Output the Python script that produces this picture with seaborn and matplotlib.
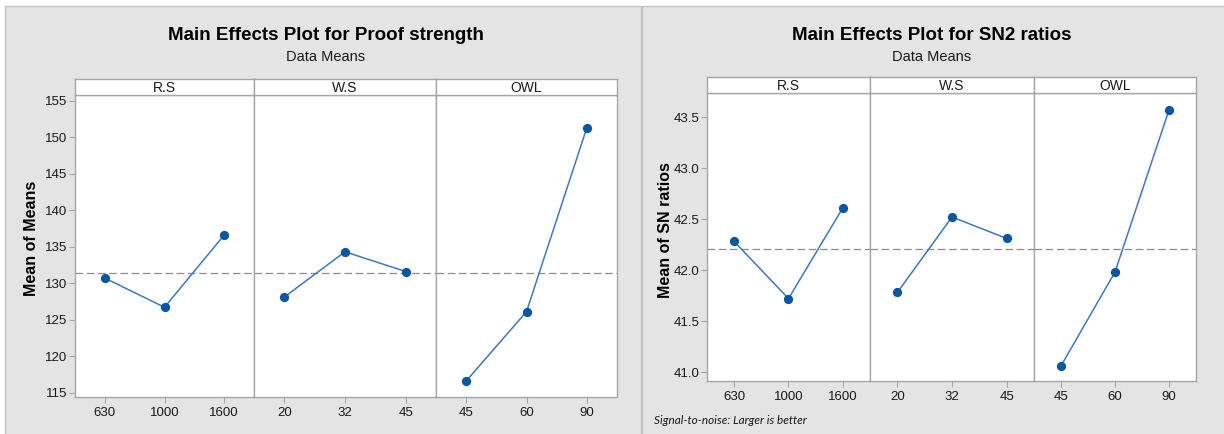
import numpy as np
import pandas as pd
import matplotlib
matplotlib.use("Agg")
import matplotlib.pyplot as plt
from matplotlib.patches import Rectangle
import seaborn as sns

# Factor levels
factors = ["R.S", "W.S", "OWL"]
rs_levels = ["630", "1000", "1600"]
ws_levels = ["20", "32", "45"]
owl_levels = ["45", "60", "90"]

# Means of proof strength per level
ps_rs = [130.7, 126.7, 136.6]
ps_ws = [128.1, 134.3, 131.6]
ps_owl = [116.6, 126.1, 151.3]

# Mean S/N ratios per level
sn_rs = [42.28, 41.72, 42.61]
sn_ws = [41.78, 42.52, 42.31]
sn_owl = [41.06, 41.98, 43.57]

ps_ticks = [115, 120, 125, 130, 135, 140, 145, 150, 155]
sn_ticks = [41.0, 41.5, 42.0, 42.5, 43.0, 43.5]

sns.set_style("white")
plt.rcParams["font.family"] = ["Liberation Sans", "DejaVu Sans"]

W, H = 1224, 434
fig = plt.figure(figsize=(W / 100, H / 100), dpi=100, facecolor="white")

BG = "#E4E4E4"
SPINE = "#A6A6A6"
LINE_C = "#3C78BE"
MARK_C = "#0B56A4"
TEXT_C = "#1A1A1A"


def px_rect(x0, y0, x1, y1):
    """Figure-fraction rect from pixel box (origin at top-left)."""
    return [x0 / W, 1 - y1 / H, (x1 - x0) / W, (y1 - y0) / H]


# Grey window backgrounds, kept beneath every axes
for x0, x1 in [(5, 641), (642, 1226)]:
    r = px_rect(x0, 6, x1, 440)
    fig.patches.append(Rectangle((r[0], r[1]), r[2], r[3], transform=fig.transFigure,
                                 facecolor=BG, edgecolor="#C4C4C4", linewidth=1.0,
                                 zorder=-10))


def draw_block(xedges, y_top, y_bot, strip_h, level_sets, value_sets, ylim,
               yticks, yfmt, title, title_x, ylabel, ylabel_x, ylabel_y):
    grand = np.mean(np.concatenate([np.asarray(v, float) for v in value_sets]))
    axes = []
    for i in range(3):
        ax = fig.add_axes(px_rect(xedges[i], y_top, xedges[i + 1], y_bot))
        ax.set_zorder(1)
        df = pd.DataFrame({"level": level_sets[i], "value": value_sets[i]})
        sns.pointplot(data=df, x="level", y="value", order=level_sets[i], ax=ax,
                      color=LINE_C, errorbar=None, markers="o", markersize=5.8,
                      linewidth=1.1, markerfacecolor=MARK_C, markeredgecolor=MARK_C)
        ax.axhline(grand, color="#8C8C8C", linewidth=0.9, dashes=(6, 3), zorder=0)
        ax.set_xlim(-0.5, 2.5)
        ax.set_ylim(*ylim)
        ax.set_xlabel("")
        ax.set_ylabel("")
        ax.set_facecolor("white")
        for s in ax.spines.values():
            s.set_color(SPINE)
            s.set_linewidth(1.0)
        ax.tick_params(axis="x", length=4, width=0.8, color=SPINE, pad=3.5,
                       labelsize=9.5, labelcolor=TEXT_C, bottom=True)
        if i == 0:
            ax.set_yticks(yticks)
            ax.set_yticklabels([yfmt.format(t) for t in yticks])
            ax.tick_params(axis="y", length=4, width=0.8, color=SPINE, pad=1.5,
                           labelsize=9.5, labelcolor=TEXT_C, left=True)
        else:
            ax.set_yticks(yticks)
            ax.tick_params(axis="y", left=False, labelleft=False)
        # strip label
        sax = fig.add_axes(px_rect(xedges[i], y_top - strip_h, xedges[i + 1], y_top))
        sax.set_zorder(1)
        sax.set_facecolor("white")
        sax.set_xticks([])
        sax.set_yticks([])
        for s in sax.spines.values():
            s.set_color(SPINE)
            s.set_linewidth(1.0)
        sax.text(0.5, 0.45, factors[i], ha="center", va="center", fontsize=10,
                 color=TEXT_C, transform=sax.transAxes)
        axes.append(ax)
    fig.text(title_x / W, 1 - 35 / H, title, ha="center", va="center",
             fontsize=13.5, fontweight="bold", color="black")
    fig.text(title_x / W, 1 - 57 / H, "Data Means", ha="center", va="center",
             fontsize=10.5, color=TEXT_C)
    fig.text(ylabel_x / W, 1 - ylabel_y / H, ylabel, rotation=90,
             ha="center", va="center", fontsize=11.5, fontweight="bold", color="black")
    return axes


draw_block([75, 254, 436, 617], 95, 397, 16,
           [rs_levels, ws_levels, owl_levels], [ps_rs, ps_ws, ps_owl],
           (114.41, 155.78), ps_ticks, "{:.0f}",
           "Main Effects Plot for Proof strength", 326, "Mean of Means", 32, 238)

draw_block([707, 870, 1034, 1196], 93, 381, 16,
           [rs_levels, ws_levels, owl_levels], [sn_rs, sn_ws, sn_owl],
           (40.912, 43.736), sn_ticks, "{:.1f}",
           "Main Effects Plot for SN2 ratios", 932, "Mean of SN ratios", 665, 230)

fig.text(654 / W, 1 - 421 / H, "Signal-to-noise: Larger is better", ha="left",
         va="center", fontsize=8.5, style="italic", family=["Lato", "DejaVu Sans"],
         color=TEXT_C)

fig.savefig("out.png", dpi=100, facecolor="white")
